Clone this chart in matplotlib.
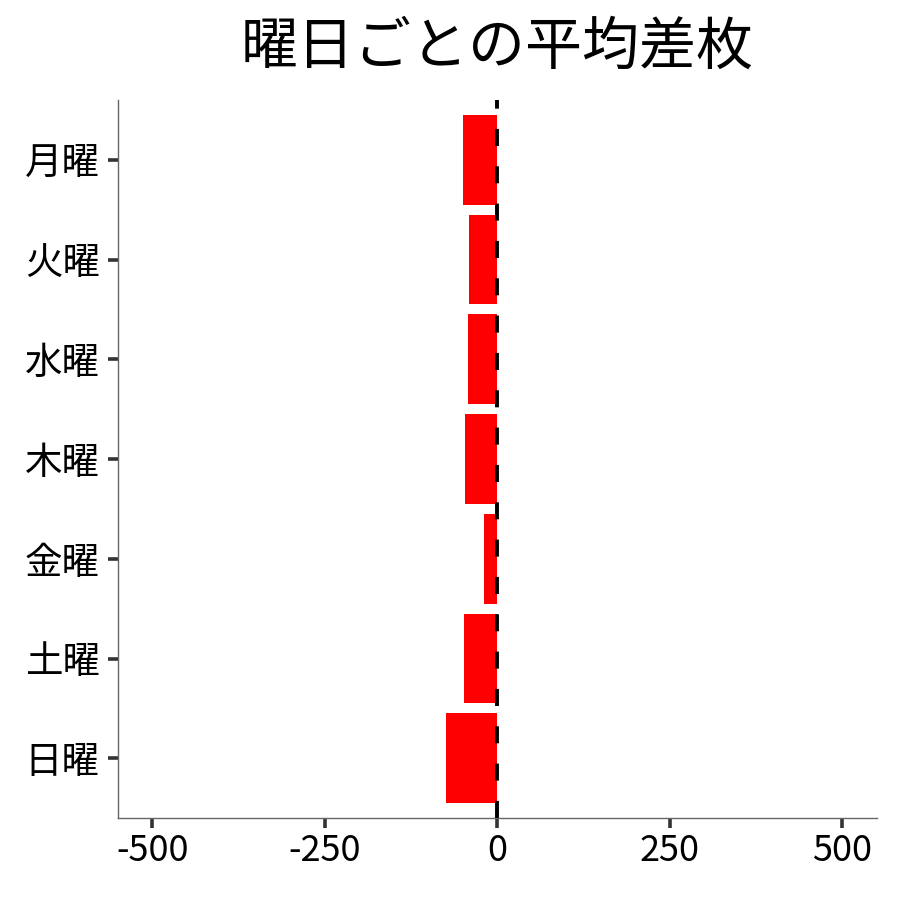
import matplotlib
matplotlib.use('Agg')
import matplotlib.pyplot as plt

plt.rcParams['font.family'] = ['Noto Sans CJK JP', 'DejaVu Sans']

# 曜日ごとの平均差枚
days = ['月曜', '火曜', '水曜', '木曜', '金曜', '土曜', '日曜']
avg_diff = [-49.5, -41.3, -42.8, -47.1, -19.7, -48.5, -74.5]
x_ticks = [-500, -250, 0, 250, 500]

fig = plt.figure(figsize=(9, 9), dpi=100)
ax = fig.add_axes([0.131, 0.091, 0.843, 0.798])

ypos = list(range(len(days)))
ax.barh(ypos, avg_diff, height=0.9, color='#FF0000', zorder=2)
ax.axvline(0, color='black', lw=2.8, linestyle=(0, (4.4, 5.2)), zorder=3)

ax.set_yticks(ypos)
ax.set_yticklabels(days)
ax.set_ylim(len(days) - 0.4, -0.6)
ax.set_xticks(x_ticks)
ax.set_xticklabels([str(v) for v in x_ticks])
ax.set_xlim(-550, 550)

for side in ['top', 'right']:
    ax.spines[side].set_visible(False)
for side in ['left', 'bottom']:
    ax.spines[side].set_color('#666666')
    ax.spines[side].set_linewidth(1.0)

ax.tick_params(axis='both', length=7, width=2.6, color='#333333',
               labelcolor='black')
ax.tick_params(axis='y', labelsize=27, pad=6)
ax.tick_params(axis='x', labelsize=26, pad=4)

ax.set_title('曜日ごとの平均差枚', fontsize=41, pad=26)

fig.savefig('out.png', dpi=100, facecolor='white')
